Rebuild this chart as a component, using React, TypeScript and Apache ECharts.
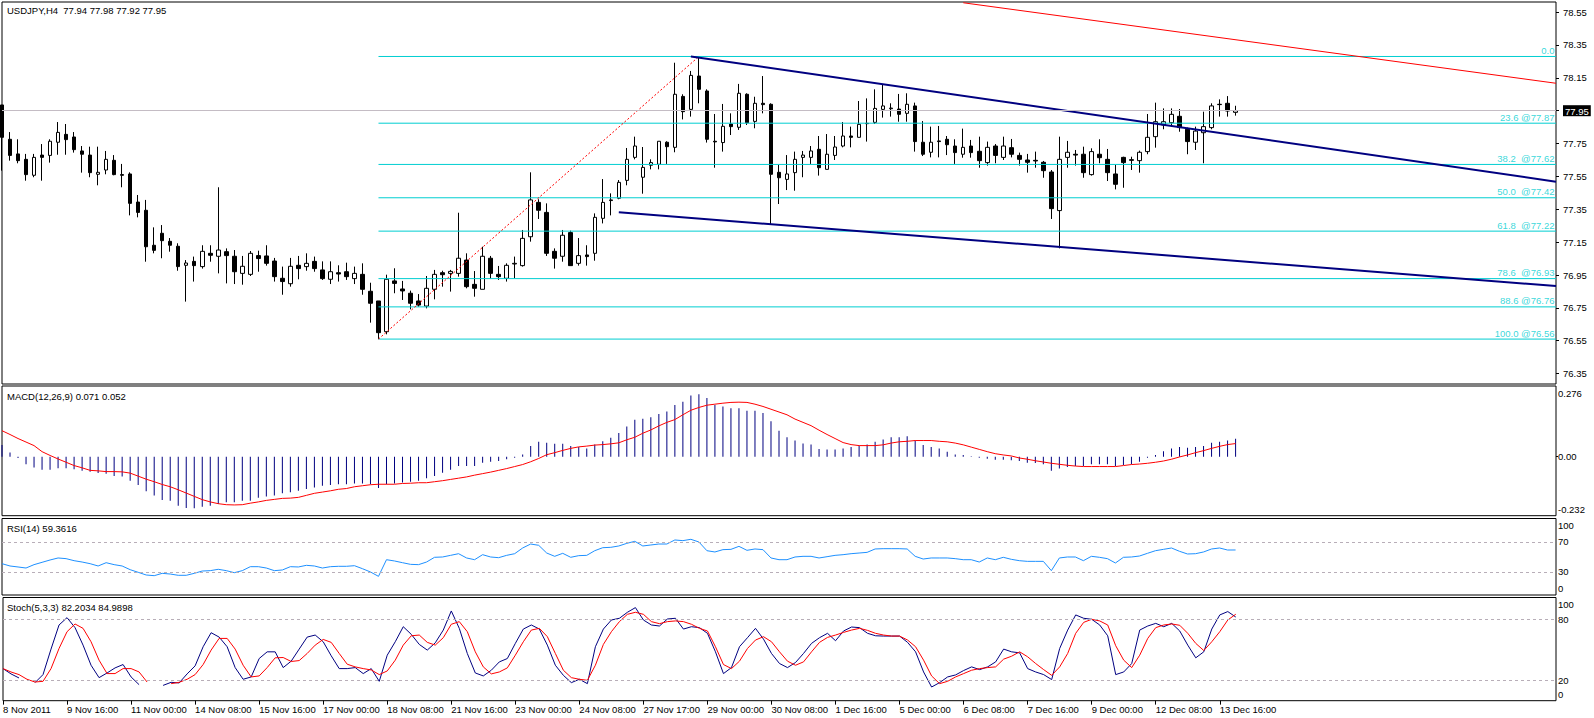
import React, { useEffect, useRef } from 'react';
import * as echarts from 'echarts';

const FONT = '"Liberation Sans", Arial, sans-serif';
const FS = 9.5;

const symbolName = 'USDJPY';
const timeframe = 'H4';
const totalSlots = 195; // bars plus the empty right shift
const labelEvery = 8;
const timeLabels = ['8 Nov 2011', '9 Nov 16:00', '11 Nov 00:00', '14 Nov 08:00', '15 Nov 16:00', '17 Nov 00:00', '18 Nov 08:00', '21 Nov 16:00', '23 Nov 00:00', '24 Nov 08:00', '27 Nov 17:00', '29 Nov 00:00', '30 Nov 08:00', '1 Dec 16:00', '5 Dec 00:00', '6 Dec 08:00', '7 Dec 16:00', '9 Dec 00:00', '12 Dec 08:00', '13 Dec 16:00'];

const opens = [77.985,77.776,77.687,77.654,77.557,77.680,77.678,77.758,77.806,77.790,
77.705,77.680,77.563,77.589,77.648,77.561,77.565,77.394,77.344,77.131,
77.204,77.155,77.125,77.009,77.033,77.001,77.082,77.064,77.092,77.064,
76.960,76.954,77.068,77.066,77.035,76.930,76.897,77.009,77.001,77.033,
76.981,76.924,76.964,76.970,76.928,76.954,76.851,76.792,76.605,76.914,
76.865,76.839,76.792,76.761,76.863,76.964,76.960,76.960,77.041,76.893,
76.863,77.052,76.954,76.930,77.017,77.007,77.183,77.392,77.331,77.094,
77.064,77.208,77.021,77.072,77.082,77.295,77.403,77.417,77.526,77.666,
77.545,77.618,77.624,77.758,77.727,78.037,77.958,78.161,78.070,77.764,
77.756,77.869,77.849,78.050,77.885,77.995,77.989,77.575,77.532,77.573,
77.666,77.666,77.715,77.593,77.678,77.735,77.796,77.788,77.871,77.879,
77.958,77.962,77.960,77.934,77.979,77.758,77.697,77.766,77.776,77.735,
77.685,77.735,77.703,77.634,77.735,77.666,77.725,77.678,77.650,77.648,
77.636,77.577,77.342,77.666,77.685,77.685,77.561,77.685,77.654,77.565,
77.666,77.652,77.646,77.701,77.792,77.863,77.877,77.916,77.837,77.758,
77.816,77.847,77.989,77.995,77.94];

const highs = [77.985,77.820,77.776,77.687,77.687,77.747,77.776,77.881,77.869,77.820,
77.735,77.731,77.731,77.705,77.680,77.626,77.575,77.437,77.407,77.240,
77.254,77.175,77.143,77.041,77.062,77.131,77.131,77.484,77.112,77.102,
77.066,77.096,77.098,77.131,77.054,77.001,77.054,77.066,77.082,77.062,
77.033,77.033,77.009,77.025,77.001,77.021,76.903,76.792,76.952,76.991,
76.914,76.855,76.834,76.944,76.981,76.976,76.981,77.329,77.082,76.974,
77.122,77.066,77.005,77.021,77.062,77.224,77.575,77.411,77.386,77.112,
77.224,77.220,77.175,77.131,77.325,77.534,77.447,77.528,77.723,77.792,
77.729,77.654,77.764,77.764,78.242,78.050,78.192,78.280,78.080,77.930,
77.991,77.934,78.113,78.056,78.035,78.161,77.995,77.620,77.680,77.701,
77.705,77.735,77.796,77.808,77.796,77.881,77.853,78.009,78.025,78.080,
78.111,77.995,78.052,78.056,77.999,77.887,77.853,77.857,77.796,77.776,
77.841,77.772,77.792,77.762,77.747,77.792,77.778,77.695,77.687,77.701,
77.644,77.589,77.792,77.766,77.711,77.731,77.721,77.776,77.717,77.620,
77.670,77.670,77.707,77.930,77.999,77.964,77.964,77.960,77.847,77.853,
77.944,77.995,78.019,78.039,77.98];

const lows = [77.585,77.646,77.630,77.524,77.545,77.524,77.634,77.682,77.682,77.695,
77.573,77.545,77.496,77.563,77.557,77.484,77.313,77.301,77.031,77.082,
77.052,77.092,76.976,76.788,76.910,76.989,77.031,76.960,76.899,76.895,
76.891,76.944,76.970,77.007,76.910,76.830,76.879,76.924,76.976,76.970,
76.920,76.895,76.910,76.920,76.895,76.830,76.660,76.560,76.589,76.839,
76.798,76.741,76.757,76.747,76.802,76.879,76.849,76.940,76.869,76.818,
76.863,76.928,76.920,76.910,76.930,77.001,77.153,77.291,77.066,76.989,
77.031,77.007,77.007,77.007,77.037,77.264,77.313,77.411,77.496,77.654,
77.445,77.593,77.593,77.626,77.697,77.897,77.914,77.995,77.756,77.603,
77.701,77.802,77.833,77.863,77.843,77.934,77.260,77.382,77.467,77.463,
77.545,77.626,77.555,77.593,77.650,77.727,77.727,77.788,77.762,77.869,
77.908,77.914,77.883,77.883,77.701,77.674,77.666,77.666,77.680,77.626,
77.664,77.664,77.603,77.616,77.630,77.650,77.666,77.616,77.573,77.603,
77.542,77.291,77.112,77.603,77.616,77.542,77.555,77.630,77.522,77.471,
77.481,77.589,77.573,77.685,77.725,77.837,77.853,77.822,77.685,77.711,
77.630,77.837,77.914,77.914,77.92];

const closes = [77.788,77.678,77.646,77.561,77.666,77.666,77.764,77.818,77.774,77.713,
77.685,77.573,77.575,77.654,77.561,77.557,77.386,77.331,77.122,77.100,
77.159,77.131,77.001,77.023,77.007,77.094,77.070,77.102,77.068,76.970,
77.003,77.082,77.050,77.021,76.940,76.910,77.003,76.989,77.021,76.989,
76.928,76.970,76.956,76.940,76.960,76.863,76.778,76.599,76.924,76.899,
76.853,76.778,76.767,76.869,76.954,76.952,76.972,77.052,76.879,76.869,
77.064,76.960,76.940,77.009,77.021,77.173,77.407,77.344,77.082,77.052,
77.192,77.007,77.068,77.062,77.301,77.392,77.407,77.514,77.654,77.735,
77.605,77.634,77.764,77.731,78.050,77.944,78.165,78.080,77.776,77.760,
77.855,77.853,78.056,77.877,77.995,77.987,77.563,77.542,77.565,77.654,
77.680,77.705,77.603,77.685,77.729,77.796,77.788,77.867,77.873,77.964,
77.979,77.966,77.928,77.989,77.762,77.685,77.758,77.762,77.743,77.695,
77.727,77.695,77.646,77.727,77.678,77.735,77.685,77.654,77.636,77.644,
77.585,77.354,77.654,77.697,77.680,77.573,77.701,77.664,77.573,77.502,
77.634,77.648,77.697,77.788,77.883,77.883,77.928,77.847,77.762,77.826,
77.853,77.979,77.987,77.948,77.95];

const macdMain = [0.046,0.017,-0.005,-0.030,-0.043,-0.052,-0.052,-0.046,-0.046,-0.050,
-0.056,-0.060,-0.065,-0.067,-0.076,-0.078,-0.095,-0.112,-0.137,-0.154,
-0.171,-0.174,-0.194,-0.203,-0.204,-0.198,-0.194,-0.187,-0.180,-0.180,
-0.174,-0.174,-0.163,-0.158,-0.154,-0.145,-0.141,-0.135,-0.128,-0.122,
-0.115,-0.112,-0.109,-0.109,-0.106,-0.106,-0.109,-0.124,-0.109,-0.106,
-0.102,-0.099,-0.095,-0.085,-0.076,-0.064,-0.052,-0.037,-0.037,-0.037,
-0.024,-0.020,-0.017,-0.010,-0.004,0.009,0.042,0.059,0.055,0.051,
0.051,0.042,0.038,0.033,0.048,0.061,0.075,0.094,0.120,0.146,
0.150,0.156,0.169,0.179,0.205,0.218,0.242,0.247,0.232,0.205,
0.199,0.192,0.192,0.182,0.182,0.173,0.140,0.103,0.077,0.064,
0.052,0.048,0.031,0.029,0.029,0.033,0.038,0.042,0.048,0.059,
0.068,0.077,0.077,0.081,0.064,0.046,0.038,0.033,0.020,0.009,
0.007,0.002,-0.004,-0.008,-0.012,-0.012,-0.014,-0.017,-0.024,-0.025,
-0.030,-0.056,-0.047,-0.041,-0.037,-0.037,-0.030,-0.030,-0.030,-0.037,
-0.033,-0.030,-0.020,-0.004,0.007,0.022,0.033,0.038,0.035,0.038,
0.042,0.055,0.059,0.064,0.071];

const macdSignal = [0.103,0.088,0.072,0.058,0.044,0.020,0.005,-0.009,-0.022,-0.035,
-0.044,-0.054,-0.056,-0.059,-0.059,-0.060,-0.065,-0.077,-0.089,-0.099,
-0.110,-0.119,-0.131,-0.144,-0.157,-0.170,-0.179,-0.186,-0.190,-0.191,
-0.190,-0.184,-0.179,-0.173,-0.169,-0.165,-0.164,-0.161,-0.153,-0.145,
-0.140,-0.135,-0.129,-0.126,-0.119,-0.115,-0.111,-0.109,-0.109,-0.109,
-0.106,-0.105,-0.103,-0.103,-0.099,-0.095,-0.090,-0.085,-0.080,-0.073,
-0.067,-0.061,-0.054,-0.047,-0.039,-0.031,-0.020,-0.007,0.008,0.016,
0.025,0.033,0.039,0.042,0.046,0.048,0.051,0.055,0.067,0.077,
0.093,0.106,0.122,0.136,0.147,0.166,0.184,0.195,0.204,0.208,
0.212,0.215,0.216,0.215,0.208,0.199,0.188,0.177,0.166,0.149,
0.136,0.123,0.105,0.088,0.072,0.056,0.048,0.044,0.044,0.044,
0.047,0.054,0.059,0.061,0.064,0.064,0.064,0.061,0.059,0.054,
0.047,0.038,0.029,0.020,0.012,0.007,0.003,-0.005,-0.010,-0.016,
-0.021,-0.026,-0.030,-0.034,-0.037,-0.039,-0.039,-0.039,-0.039,-0.039,
-0.035,-0.031,-0.029,-0.026,-0.022,-0.017,-0.010,-0.001,0.007,0.016,
0.024,0.033,0.041,0.048,0.052];

const rsiValues = [41.1,38.0,36.7,35.3,39.8,42.9,46.0,48.7,47.8,45.1,
43.3,41.1,38.0,42.4,39.8,38.0,33.1,29.6,26.0,25.1,
28.2,27.3,25.6,25.6,28.2,31.3,31.8,33.6,31.8,29.1,
31.8,37.1,37.1,35.3,31.8,32.7,37.1,36.7,38.9,38.0,
35.3,37.1,37.6,37.6,38.4,34.4,30.0,24.2,46.4,44.7,
42.4,40.2,39.8,43.3,49.6,50.0,52.2,54.4,48.7,46.4,
53.1,50.0,49.1,52.2,54.4,62.0,67.3,65.6,55.3,50.9,
54.9,49.6,51.8,52.2,58.4,62.4,62.9,64.7,68.2,70.9,
64.7,66.0,67.3,67.3,72.7,71.8,73.6,70.0,58.4,56.7,
59.8,60.2,64.2,58.9,60.7,59.8,48.7,46.4,46.4,50.0,
50.9,50.9,48.7,50.4,52.2,53.1,54.4,55.3,56.2,60.7,
61.1,61.1,61.1,60.7,50.9,47.3,48.7,48.7,48.7,47.8,
46.4,46.4,43.3,48.7,46.4,49.6,46.9,45.1,44.2,44.2,
44.2,31.8,48.7,50.0,50.0,45.1,50.9,49.6,47.8,42.0,
49.6,50.0,51.3,54.9,58.4,60.2,62.0,57.6,54.0,54.4,
56.7,60.7,62.0,59.3,59.3616];

const stochMain = [31.5,26.3,22.3,null,17.7,25.6,50.7,74.4,81.6,71.8,
54.6,34.8,22.6,27.2,32.2,35.5,23.3,15.7,null,null,
15.0,18.0,17.4,26.3,34.2,53.0,66.8,62.5,53.0,32.5,
21.0,23.3,41.4,48.0,48.0,32.5,38.8,50.7,62.5,64.5,
57.9,44.1,31.5,31.5,32.5,26.6,31.5,19.0,44.7,57.9,
72.7,65.2,55.3,49.7,56.9,69.4,88.2,71.1,46.4,27.2,
24.3,29.9,38.1,41.4,56.3,70.4,74.4,70.4,54.6,34.8,
24.9,17.7,21.0,16.7,53.0,70.4,79.3,81.0,86.9,91.5,
79.3,74.4,73.4,80.3,81.0,70.4,72.7,71.8,66.2,48.0,
26.6,32.5,53.0,61.9,71.1,60.5,46.4,36.5,32.5,37.5,
46.4,56.3,61.9,66.2,58.9,68.5,72.4,71.8,66.2,63.8,
63.5,63.5,63.5,57.3,48.0,28.2,13.4,17.7,23.3,25.3,
29.6,33.2,30.5,33.2,38.1,50.7,48.0,47.0,31.5,28.2,
25.6,20.7,51.3,69.4,84.3,81.0,80.0,74.4,63.8,25.6,
28.2,36.5,69.4,73.4,76.0,72.7,76.0,68.5,54.6,42.1,
48.0,70.4,84.3,87.6,82.2034];

const stochSignal = [31.5,28.2,25.6,21.0,18.3,19.0,31.5,51.3,67.8,75.4,
71.1,57.9,39.8,26.6,26.6,31.5,31.5,28.2,18.3,null,
null,16.7,18.0,21.0,25.6,35.5,49.7,61.2,61.2,50.7,
34.8,23.3,24.3,32.5,42.1,42.4,38.5,39.4,46.4,54.6,
60.2,57.3,46.4,35.8,33.2,31.5,30.2,25.6,29.2,39.8,
54.6,63.8,64.5,57.3,54.6,61.9,75.1,77.7,67.8,48.0,
33.2,26.3,28.2,32.2,44.7,57.9,69.4,71.1,62.9,46.4,
29.9,22.6,21.0,20.0,34.8,55.3,67.8,77.7,84.9,86.9,
84.9,77.7,75.7,77.7,78.4,77.7,75.1,71.1,68.5,53.0,
35.5,31.5,38.8,51.3,59.6,62.9,57.9,48.0,38.8,34.8,
38.1,48.0,57.3,62.2,64.5,67.1,69.4,71.1,69.1,66.2,
64.5,63.5,63.5,59.6,53.0,39.8,24.3,16.7,19.0,23.3,
26.6,29.9,31.5,32.5,33.2,40.8,43.7,48.0,43.1,36.5,
30.5,24.9,33.2,46.4,66.2,77.0,80.0,78.4,74.4,54.0,
39.8,32.5,44.7,61.2,71.8,74.4,75.4,74.1,66.2,56.3,
49.3,57.9,67.8,79.3,84.9898];

const priceTickLabels = ['78.55', '78.35', '78.15', '77.95', '77.75', '77.55', '77.35', '77.15', '76.95', '76.75', '76.55', '76.35'];
const bidPrice = 77.95;
const macdTickLabels = ['0.276', '0.00', '-0.232'];
const rsiTickLabels = ['100', '70', '30', '0'];
const stochTickLabels = ['100', '80', '20', '0'];
const rsiLevels = [70, 30];
const stochLevels = [80, 20];

const fibLevels = [78.28, 77.874, 77.623, 77.42, 77.217, 76.928, 76.756, 76.56];
const fibTexts = ['0.0', '23.6 @77.87', '38.2  @77.62', '50.0  @77.42', '61.8  @77.22', '78.6  @76.93', '88.6 @76.76', '100.0 @76.56'];
const fibFromBar = 47;
const fibToBar = 87;
const fibLowPrice = 76.56;
const fibHighPrice = 78.28;
const lastSlot = 194;
const channelUpper = [[86, 78.28], [194, 77.518]];
const channelLower = [[77, 77.332], [194, 76.883]];
const redTrend = [[120, 78.607], [194, 78.117]];

const categories = Array.from({ length: totalSlots }, (_, i) =>
  i % labelEvery === 0 && i / labelEvery < timeLabels.length ? timeLabels[i / labelEvery] : ''
);

function edgeFormatter(labels: string[]) {
  const vals = labels.map(Number);
  const max = Math.max(...vals);
  const min = Math.min(...vals);
  return (v: number) => {
    const i = vals.findIndex((x) => Math.abs(x - v) < 1e-9);
    const s = i >= 0 ? labels[i] : String(v);
    if (Math.abs(v - max) < 1e-9) return `{dn|${s}}`;
    if (Math.abs(v - min) < 1e-9) return `{up|${s}}`;
    return `{n|${s}}`;
  };
}

const edgeRich = {
  n: { fontSize: FS, fontFamily: FONT, color: '#000' },
  dn: { fontSize: FS, fontFamily: FONT, color: '#000', padding: [12, 0, 0, 0] },
  up: { fontSize: FS, fontFamily: FONT, color: '#000', padding: [0, 0, 12, 0] },
};

const grids = [
  { left: 2, top: 2, width: 1554, height: 382 },
  { left: 2, top: 386, width: 1554, height: 129.7 },
  { left: 2, top: 518.5, width: 1554, height: 76.5 },
  { left: 2, top: 597.5, width: 1554, height: 103.2 },
];

function buildOption() {
  const last = closes.length - 1;
  const candleData = opens.map((o, i) => [o, closes[i], lows[i], highs[i]]);
  const lineBase = { type: 'line', symbol: 'none', silent: true, xAxisIndex: 0, yAxisIndex: 0, z: 4 };

  const xAxes = grids.map((_, k) => ({
    type: 'category',
    gridIndex: k,
    data: categories,
    boundaryGap: false,
    show: k === 3,
    axisLine: { show: false },
    splitLine: { show: false },
    axisTick: {
      show: k === 3,
      interval: (idx: number, val: string) => val !== '',
      length: 4,
      lineStyle: { color: '#000' },
    },
    axisLabel: {
      show: k === 3,
      interval: (idx: number, val: string) => val !== '',
      align: 'left',
      margin: 4,
      fontSize: FS,
      fontFamily: FONT,
      color: '#000',
    },
  }));

  const priceVals = priceTickLabels.map(Number);

  const yAxes = [
    {
      type: 'value', gridIndex: 0, position: 'right',
      min: 76.2866, max: 78.6116,
      splitLine: { show: false }, axisLine: { show: false },
      axisTick: { show: true, length: 3, customValues: priceVals, lineStyle: { color: '#000' } },
      axisLabel: {
        customValues: priceVals, margin: 7, fontSize: FS, fontFamily: FONT, color: '#000',
        formatter: (v: number) => {
          const s = v.toFixed(2);
          return Math.abs(v - bidPrice) < 1e-6 ? `{hl|${s}}` : s;
        },
        rich: { hl: { backgroundColor: '#000', color: '#fff', fontSize: FS, fontFamily: FONT, padding: [1, 2, 0, 2] } },
      },
    },
    {
      type: 'value', gridIndex: 1, position: 'right',
      min: -0.2336, max: 0.28,
      splitLine: { show: false }, axisLine: { show: false },
      axisTick: { show: true, length: 2, customValues: [0], lineStyle: { color: '#000' } },
      axisLabel: { customValues: macdTickLabels.map(Number), margin: 2, formatter: edgeFormatter(macdTickLabels), rich: edgeRich },
    },
    {
      type: 'value', gridIndex: 2, position: 'right',
      min: -0.667, max: 101.333,
      splitLine: { show: false }, axisLine: { show: false },
      axisTick: { show: false },
      axisLabel: { customValues: rsiTickLabels.map(Number), margin: 2, formatter: edgeFormatter(rsiTickLabels), rich: edgeRich },
    },
    {
      type: 'value', gridIndex: 3, position: 'right',
      min: -0.07, max: 101.44,
      splitLine: { show: false }, axisLine: { show: false },
      axisTick: { show: false },
      axisLabel: { customValues: stochTickLabels.map(Number), margin: 2, formatter: edgeFormatter(stochTickLabels), rich: edgeRich },
    },
  ];

  const levelLine = (levels: number[]) => ({
    silent: true,
    symbol: ['none', 'none'],
    label: { show: false },
    lineStyle: { color: '#b8aeb8', width: 1, type: [3, 3] },
    data: levels.map((v) => ({ yAxis: v })),
  });

  const series: any[] = [
    {
      type: 'candlestick', xAxisIndex: 0, yAxisIndex: 0,
      data: candleData, barWidth: 4, clip: true, z: 2,
      itemStyle: { color: '#fff', color0: '#000', borderColor: '#000', borderColor0: '#000', borderWidth: 1 },
      markLine: {
        silent: true, symbol: ['none', 'none'], label: { show: false },
        lineStyle: { color: '#c4bcc4', width: 1, type: 'solid' },
        data: [{ yAxis: bidPrice }],
      },
    },
    ...fibLevels.map((lv) => ({
      ...lineBase,
      data: [[fibFromBar, lv], [lastSlot, lv]],
      lineStyle: { color: '#00CED1', width: 1 },
    })),
    {
      type: 'scatter', xAxisIndex: 0, yAxisIndex: 0, silent: true, z: 6,
      symbolSize: 1,
      itemStyle: { color: 'rgba(0,0,0,0)' },
      data: fibLevels.map((lv, i) => ({ value: [lastSlot, lv], label: { formatter: fibTexts[i] } })),
      label: { show: true, position: 'left', distance: 1, offset: [0, -6], color: '#00CED1', fontSize: FS, fontFamily: FONT },
    },
    {
      ...lineBase,
      data: [[fibFromBar, fibLowPrice], [fibToBar, fibHighPrice]],
      lineStyle: { color: '#ff0000', width: 1, type: [2, 2] },
    },
    { ...lineBase, data: channelUpper, lineStyle: { color: '#000080', width: 2 } },
    { ...lineBase, data: channelLower, lineStyle: { color: '#000080', width: 2 } },
    { ...lineBase, data: redTrend, lineStyle: { color: '#ff0000', width: 1 } },
    {
      type: 'bar', xAxisIndex: 1, yAxisIndex: 1, data: macdMain, barWidth: 1, silent: true,
      itemStyle: { color: '#000080' },
    },
    {
      type: 'line', xAxisIndex: 1, yAxisIndex: 1, data: macdSignal, symbol: 'none', silent: true,
      lineStyle: { color: '#ff0000', width: 1 },
    },
    {
      type: 'line', xAxisIndex: 2, yAxisIndex: 2, data: rsiValues, symbol: 'none', silent: true,
      lineStyle: { color: '#1E90FF', width: 1 },
      markLine: levelLine(rsiLevels),
    },
    {
      type: 'line', xAxisIndex: 3, yAxisIndex: 3, data: stochMain, symbol: 'none', silent: true,
      lineStyle: { color: '#000080', width: 1 },
      markLine: levelLine(stochLevels),
    },
    {
      type: 'line', xAxisIndex: 3, yAxisIndex: 3, data: stochSignal, symbol: 'none', silent: true,
      lineStyle: { color: '#ff0000', width: 1 },
    },
  ];

  const titleStyle = { fontSize: FS, fontWeight: 'normal', color: '#000', fontFamily: FONT };
  const f2 = (v: number) => v.toFixed(2);
  const title = [
    { text: `${symbolName},${timeframe}  ${f2(opens[last])} ${f2(highs[last])} ${f2(lows[last])} ${f2(closes[last])}`, left: 7, top: 5, padding: 0, textStyle: titleStyle },
    { text: `MACD(12,26,9) ${macdMain[last].toFixed(3)} ${macdSignal[last].toFixed(3)}`, left: 7, top: 391, padding: 0, textStyle: titleStyle },
    { text: `RSI(14) ${rsiValues[last].toFixed(4)}`, left: 7, top: 523.5, padding: 0, textStyle: titleStyle },
    { text: `Stoch(5,3,3) ${(stochMain[last] as number).toFixed(4)} ${(stochSignal[last] as number).toFixed(4)}`, left: 7, top: 602, padding: 0, textStyle: titleStyle },
  ];

  return {
    animation: false,
    backgroundColor: '#fff',
    title,
    grid: grids.map((g) => ({ ...g, show: true, borderColor: '#000', borderWidth: 1, backgroundColor: '#fff' })),
    xAxis: xAxes,
    yAxis: yAxes,
    series,
  };
}

export default function App() {
  const ref = useRef<HTMLDivElement>(null);
  useEffect(() => {
    document.body.style.margin = '0';
    const chart = echarts.init(ref.current as HTMLDivElement, null, { renderer: 'svg' });
    chart.setOption(buildOption() as any);
    return () => chart.dispose();
  }, []);
  return (
    <div
      ref={ref}
      style={{ position: 'fixed', left: 0, top: 0, width: 1594, height: 718, background: '#fff' }}
    />
  );
}
